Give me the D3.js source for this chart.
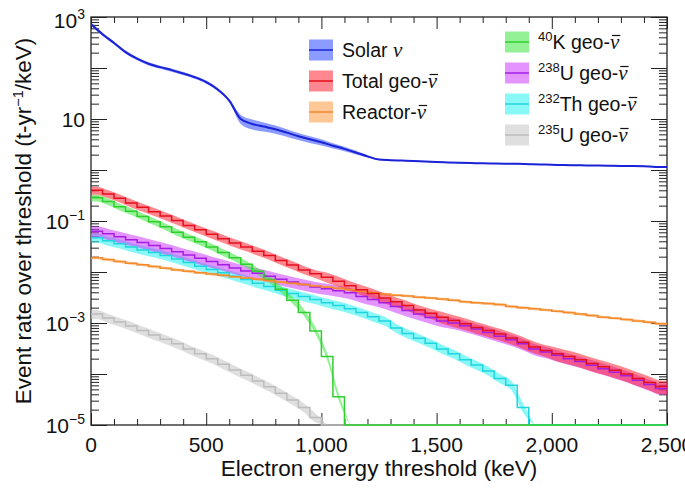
<!DOCTYPE html>
<html><head><meta charset="utf-8">
<script src="https://cdn.jsdelivr.net/npm/d3@7"></script>
<style>
body{margin:0;background:#fff}
svg{display:block}
text{font-family:"Liberation Sans",Arial,Helvetica,sans-serif;fill:#111}
</style>
</head><body><svg id="c" width="685" height="495"></svg>
<script>
// ---------------- data (threshold energies in keV, 50 keV bins) ----------------
const energy = [0,50,100,150,200,250,300,350,400,450,500,550,600,650,700,750,800,850,900,950,
  1000,1050,1100,1150,1200,1250,1300,1350,1400,1450,1500,1550,1600,1650,1700,1750,1800,1850,1900,1950,
  2000,2050,2100,2150,2200,2250,2300,2350,2400,2450];
const solar = [727,460,310,205,152,121,104,91,78,66, 53,38,23,10,8.0,7.1,6.3,5.4,4.6,4.0,
  3.5,3.0,2.6,2.2,1.85,1.6,1.56,1.53,1.5,1.46, 1.43,1.41,1.39,1.37,1.35,1.34,1.33,1.32,1.3,1.28,
  1.27,1.25,1.24,1.23,1.22,1.21,1.2,1.2,1.19,1.15];
const solarErr = [0.07,0.07,0.07,0.07,0.07,0.07,0.07,0.07,0.07,0.07, 0.07,0.07,0.07,0.2,0.22,0.2,0.18,0.17,0.16,0.15,
  0.14,0.12,0.1,0.08,0.05,0.03,0.02,0.02,0.02,0.02, 0.02,0.02,0.02,0.02,0.02,0.02,0.02,0.02,0.02,0.02,
  0.02,0.02,0.02,0.02,0.02,0.02,0.02,0.02,0.02,0.02];
const totalGeo = [0.40,0.34,0.28,0.225,0.185,0.152,0.125,0.102,0.082,0.067, 0.055,0.045,0.037,0.031,0.0255,0.021,0.0168,0.0137,0.011,0.0092,
  0.0079,0.0066,0.0054,0.0045,0.0038,0.0031,0.0026,0.0022,0.0018,0.00155, 0.0013,0.00112,0.00097,0.00082,0.00071,0.00061,0.00051,0.00042,0.00034,0.00029,
  0.00025,0.00022,0.00019,0.00016,0.000138,0.000118,0.0001,0.000082,0.000068,0.000057];
const totalGeoErr = [0.18,0.18,0.18,0.18,0.18,0.18,0.18,0.18,0.18,0.18, 0.18,0.18,0.18,0.18,0.18,0.18,0.18,0.18,0.18,0.18,
  0.22,0.22,0.22,0.22,0.22,0.22,0.22,0.22,0.22,0.22, 0.26,0.26,0.26,0.26,0.26,0.26,0.26,0.26,0.26,0.26,
  0.3,0.3,0.3,0.3,0.3,0.3,0.3,0.3,0.3,0.3];
const reactor = [0.019,0.0175,0.016,0.0148,0.0138,0.0128,0.0119,0.011,0.0103,0.0097, 0.0091,0.0086,0.0081,0.0076,0.0072,0.0068,0.0064,0.006,0.0057,0.0053,
  0.005,0.0048,0.0045,0.0042,0.0039,0.0037,0.0035,0.0034,0.0032,0.0031, 0.00295,0.0028,0.0026,0.0025,0.0024,0.0023,0.0021,0.002,0.0019,0.0018,
  0.0017,0.0016,0.0015,0.0014,0.0013,0.00124,0.00117,0.0011,0.00103,0.00097];
const k40 = [0.285,0.24,0.19,0.155,0.122,0.097,0.077,0.06,0.048,0.039, 0.031,0.024,0.019,0.0142,0.0103,0.0071,0.0046,0.0028,0.0016,0.0007,
  0.00022,0.000036,0,0,0,0,0,0,0,0, 0,0,0,0,0,0,0,0,0,0, 0,0,0,0,0,0,0,0,0,0];
const u238 = [0.063,0.056,0.049,0.043,0.038,0.033,0.029,0.025,0.0215,0.0186, 0.016,0.0139,0.012,0.0105,0.0094,0.0083,0.0072,0.0064,0.0057,0.0051,
  0.0047,0.0043,0.0039,0.0033,0.0029,0.0025,0.0021,0.00175,0.0015,0.00128, 0.0011,0.001,0.00088,0.00076,0.00065,0.00055,0.00047,0.00039,0.00031,0.00027,
  0.000232,0.0002,0.000175,0.000148,0.000127,0.000108,0.000092,0.000075,0.000062,0.000052];
const th232 = [0.047,0.041,0.036,0.031,0.027,0.024,0.021,0.018,0.0153,0.013, 0.0112,0.0097,0.0083,0.0071,0.006,0.0052,0.0044,0.0038,0.0033,0.0029,
  0.0025,0.0022,0.0019,0.0016,0.00133,0.0011,0.0008,0.00062,0.0005,0.0004, 0.00031,0.00025,0.00019,0.00015,0.000115,0.000082,0.00006,0.000022,0,0,
  0,0,0,0,0,0,0,0,0,0];
const u235 = [0.0015,0.00125,0.00105,0.00087,0.00071,0.00058,0.00048,0.00039,0.00031,0.00025, 0.0002,0.000155,0.00012,0.000094,0.000073,0.000056,0.000042,0.000031,0.000022,0.000014,
  0,0,0,0,0,0,0,0,0,0, 0,0,0,0,0,0,0,0,0,0, 0,0,0,0,0,0,0,0,0,0];

const xTicks = [0,500,1000,1500,2000,2500];
const xTickLabels = ["0","500","1,000","1,500","2,000","2,500"];
const yLabelValues = [1e3,10,1e-1,1e-3,1e-5];
const yLabelExps = ["3","","\u22121","\u22123","\u22125"];
const xTitle = "Electron energy threshold (keV)";

// ---------------- chart ----------------
const svg = d3.select("#c");
const L=91,R=667,T=17,B=425, xMax=2500, binW=50;
const x = d3.scaleLinear().domain([0,xMax]).range([L,R]);
const y = d3.scaleLog().domain([1e-5,1e3]).range([B,T]).clamp(true);
const yv = v => y(Math.max(v,1e-8));

const series = [
  {id:"u235", vals:u235, err:0.2, line:"#bdbdbd", band:"#c4c4c4"},
  {id:"th232", vals:th232, err:0.2, line:"#1fd6df", band:"#2af0f0"},
  {id:"u238", vals:u238, err:0.25, line:"#a51fe3", band:"#cc3cff"},
  {id:"k40", vals:k40, err:0.15, line:"#2fcf2f", band:"#3ee63e"},
  {id:"reactor", vals:reactor, err:0.06, line:"#f28a2e", band:"#ff9a40"},
  {id:"total", vals:totalGeo, err:totalGeoErr, line:"#e2101e", band:"#ff2434"},
  {id:"solar", vals:solar, err:solarErr, line:"#1b23d6", band:"#2e48ff", smooth:true}
];
const byId = Object.fromEntries(series.map(s=>[s.id,s]));

// frame ticks via d3 axes
const decades = [1e-5,1e-4,1e-3,1e-2,1e-1,1,10,100,1e3];
const yMinor = y.ticks().filter(v=>!decades.some(d=>Math.abs(v/d-1)<1e-6));
const xMinor = d3.range(0,xMax+1,100).filter(v=>v%500!==0);
const axG = svg.append("g").attr("class","axes");
function styl(g){g.select(".domain").remove();g.selectAll("line").attr("stroke","#222").attr("stroke-width",1);g.selectAll("text").remove();}
axG.append("g").attr("transform",`translate(0,${B})`).call(d3.axisBottom(x).tickValues(xTicks).tickSize(-12)).call(styl);
axG.append("g").attr("transform",`translate(0,${B})`).call(d3.axisBottom(x).tickValues(xMinor).tickSize(-6)).call(styl);
axG.append("g").attr("transform",`translate(0,${T})`).call(d3.axisTop(x).tickValues(xTicks).tickSize(-12)).call(styl);
axG.append("g").attr("transform",`translate(0,${T})`).call(d3.axisTop(x).tickValues(xMinor).tickSize(-6)).call(styl);
axG.append("g").attr("transform",`translate(${L},0)`).call(d3.axisLeft(y).tickValues(decades).tickSize(-16)).call(styl);
axG.append("g").attr("transform",`translate(${L},0)`).call(d3.axisLeft(y).tickValues(yMinor).tickSize(-8)).call(styl);
axG.append("g").attr("transform",`translate(${R},0)`).call(d3.axisRight(y).tickValues(decades).tickSize(-16)).call(styl);
axG.append("g").attr("transform",`translate(${R},0)`).call(d3.axisRight(y).tickValues(yMinor).tickSize(-8)).call(styl);
axG.append("rect").attr("x",L).attr("y",T).attr("width",R-L).attr("height",B-T)
  .attr("fill","none").attr("stroke","#222").attr("stroke-width",1.3);

// clip
svg.append("clipPath").attr("id","clip").append("rect").attr("x",L).attr("y",T-1).attr("width",R-L).attr("height",B-T+2);
const dataG = svg.append("g").attr("clip-path","url(#clip)");

function bandPts(s){
  const pts=[]; const e = i => Array.isArray(s.err)? s.err[i] : s.err;
  const off = s.smooth ? 0 : binW/2;
  if(off>0) pts.push({e:0, v:s.vals[0], er:e(0)});
  for(let i=0;i<energy.length;i++){
    const v=s.vals[i];
    pts.push({e:energy[i]+off, v:v, er:e(i)});
    if(v<=0) break;
  }
  if(s.vals[s.vals.length-1]>0) pts.push({e:xMax, v:s.vals[s.vals.length-1], er:e(s.vals.length-1)});
  return pts;
}
const area = d3.area().x(d=>x(d.e)).y0(d=>yv(d.v*(1-d.er))).y1(d=>yv(d.v*(1+d.er))).curve(d3.curveMonotoneX);
series.forEach(s=>{
  dataG.append("path").attr("d",area(bandPts(s))).attr("fill",s.band).attr("fill-opacity",0.55).attr("stroke","none");
});
series.forEach(s=>{
  let pts = energy.map((e,i)=>({e, v:s.vals[i]}));
  pts.push({e:xMax, v:s.vals[s.vals.length-1]});
  const ln = d3.line().x(d=>x(d.e)).y(d=>yv(d.v)).curve(s.smooth? d3.curveMonotoneX : d3.curveStepAfter);
  dataG.append("path").attr("d",ln(pts)).attr("fill","none").attr("stroke",s.line)
    .attr("stroke-width", s.smooth?2:1.5).attr("stroke-linejoin","miter");
});

// tick labels
const lab = svg.append("g").style("font-size","21px");
xTicks.forEach((v,i)=>{
  lab.append("text").attr("x",x(v)).attr("y",B+27).attr("text-anchor","middle").text(xTickLabels[i]);
});
yLabelValues.forEach((v,i)=>{
  const t = lab.append("text").attr("x",85).attr("y",y(v)+7.5+(i===0?3:0)).attr("text-anchor","end");
  t.append("tspan").text("10");
  if(yLabelExps[i]) t.append("tspan").attr("dy",-9).style("font-size","14px").text(yLabelExps[i]);
});
// axis titles
svg.append("text").attr("x",(L+R)/2).attr("y",476).attr("text-anchor","middle").style("font-size","22.5px").text(xTitle);
const yt = svg.append("text").attr("transform","translate(31,221) rotate(-90)").attr("text-anchor","middle").style("font-size","22.5px");
yt.append("tspan").text("Event rate over threshold (t-yr");
yt.append("tspan").attr("dy",-8).style("font-size","14.5px").text("\u22121");
yt.append("tspan").attr("dy",8).text("/keV)");

// legend
const legendItems = [
  {id:"solar", col:0, row:0, parts:[{t:"Solar "},{t:"\u03bd",nu:true}]},
  {id:"total", col:0, row:1, parts:[{t:"Total geo-"},{t:"\u03bd",nu:true,bar:true}]},
  {id:"reactor", col:0, row:2, parts:[{t:"Reactor-"},{t:"\u03bd",nu:true,bar:true}]},
  {id:"k40", col:1, row:0, parts:[{t:"40",sup:true},{t:"K geo-"},{t:"\u03bd",nu:true,bar:true}]},
  {id:"u238", col:1, row:1, parts:[{t:"238",sup:true},{t:"U geo-"},{t:"\u03bd",nu:true,bar:true}]},
  {id:"th232", col:1, row:2, parts:[{t:"232",sup:true},{t:"Th geo-"},{t:"\u03bd",nu:true,bar:true}]},
  {id:"u235", col:1, row:3, parts:[{t:"235",sup:true},{t:"U geo-"},{t:"\u03bd",nu:true,bar:true}]}
];
const colX = [309,505], colY0 = [50,42], rowH = 31;
const lg = svg.append("g");
legendItems.forEach(it=>{
  const s = byId[it.id];
  const cx = colX[it.col], cy = colY0[it.col]+it.row*rowH;
  lg.append("rect").attr("x",cx).attr("y",cy-10.5).attr("width",24).attr("height",21)
    .attr("fill",s.band).attr("fill-opacity",0.55);
  lg.append("line").attr("x1",cx).attr("x2",cx+24).attr("y1",cy).attr("y2",cy).attr("stroke",s.line).attr("stroke-width",1.5);
  const baseY = cy+7;
  const t = lg.append("text").attr("x",cx+33).attr("y",baseY).style("font-size","19.5px");
  let up=false, idx=0; const bars=[];
  it.parts.forEach(p=>{
    const ts = t.append("tspan").text(p.t);
    if(p.sup){ ts.attr("dy",-8).style("font-size","13px"); up=true; }
    else if(up){ ts.attr("dy",8); up=false; }
    if(p.nu){ ts.style("font-family","'Liberation Serif','DejaVu Serif',serif").style("font-style","italic").style("font-size","21px"); }
    if(p.bar) bars.push(idx);
    idx += p.t.length;
  });
  bars.forEach(ci=>{
    const ext = t.node().getExtentOfChar(ci);
    lg.append("line").attr("x1",ext.x+2).attr("x2",ext.x+ext.width+1)
      .attr("y1",baseY-13.5).attr("y2",baseY-13.5).attr("stroke","#111").attr("stroke-width",1.2);
  });
});
</script>
</body></html>
